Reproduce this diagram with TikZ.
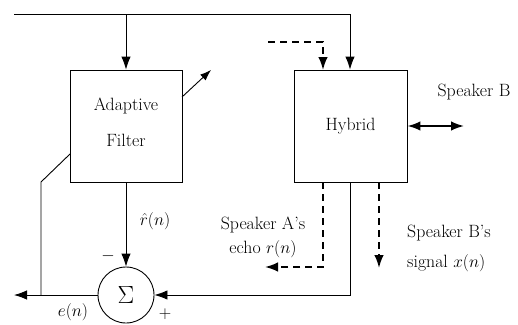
\documentclass[tikz,border=0pt]{standalone}
\usetikzlibrary{arrows.meta}
\begin{document}
\begin{tikzpicture}[x=1pt,y=-1pt,
  every node/.style={font=\fontsize{17.8}{21.4}\selectfont},
  blk/.style={draw,line width=0.9pt,minimum width=112pt,minimum height=112pt,inner sep=0pt},
  sumnode/.style={draw,line width=0.9pt,circle,minimum size=56pt,inner sep=0pt},
  wire/.style={line width=0.9pt},
  tip/.style={-{Latex[length=13pt,width=9.5pt]}},
  dashline/.style={line width=1.8pt,dash pattern=on 7pt off 5pt},
  lbl/.style={inner sep=0pt}]
\useasboundingbox (0,0) rectangle (518,324);
% blocks
\node[blk] (AF) at (126,126) {};
\node[lbl] (AFt1) at (126,106) {Adaptive};
\node[lbl] (AFt2) at (126,140) {Filter};
\node[blk,minimum width=113pt] (HY) at (350.5,126) {Hybrid};
\node[sumnode] (S) at (126,295) {\fontsize{27}{27}\selectfont$\Sigma$};
% coordinates
\coordinate (tl) at (14,14);
\coordinate (tr) at (350,14);
\coordinate (d1) at (268,42);
\coordinate (d2) at (323,42);
\coordinate (d2b) at (323,70);
\coordinate (e1) at (323,182);
\coordinate (e2) at (323,267);
\coordinate (e3) at (265,267);
\coordinate (x1) at (379,182);
\coordinate (x2) at (379,268);
\coordinate (br) at (464,126);
\coordinate (h1) at (350,182);
\coordinate (h2) at (350,295);
\coordinate (out) at (14,295);
\coordinate (f1) at (41,295);
\coordinate (f2) at (41,182);
\coordinate (f3) at (70,154);
\coordinate (a1) at (182,97);
\coordinate (a2) at (211,70);
% top line
\draw[wire,tip] (tl) -- (tr) -- (tr |- HY.north);
\draw[wire,tip] (AF.north |- tl) -- (AF.north);
% dashed
\draw[dashline,tip] (d1) -- (d2) -- (d2b);
\draw[dashline,tip] (e1) -- (e2) -- (e3);
\draw[dashline,tip] (x1) -- (x2);
% speaker B
\draw[line width=1.8pt,{Latex[length=13pt,width=9.5pt]}-{Latex[length=13pt,width=9.5pt]}] (HY.east) -- (br);
% lower paths
\draw[wire,tip] (h1) -- (h2) -- (S.east);
\draw[wire,tip] (AF.south) -- (S.north);
\draw[wire,tip] (S.west) -- (out);
\draw[wire] (f1) -- (f2) -- (f3);
\draw[wire,-{Latex[length=11pt,width=8pt]}] (a1) -- (a2);
% labels
\node[lbl] (lB) at (474,92) {Speaker B};
\node[lbl,align=center,font=\fontsize{17.8}{24}\selectfont] (lA) at (263,237) {Speaker A's\\echo $r(n)$};
\node[lbl,align=left,anchor=west,font=\fontsize{17.8}{30}\selectfont] (lBs) at (407,248) {Speaker B's\\signal $x(n)$};
\node[lbl] (lr) at (155,221) {$\hat r(n)$};
\node[lbl] (lm) at (108,256) {$-$};
\node[lbl] (le) at (73,312) {$e(n)$};
\node[lbl] (lp) at (165,314) {$+$};
\end{tikzpicture}
\end{document}
